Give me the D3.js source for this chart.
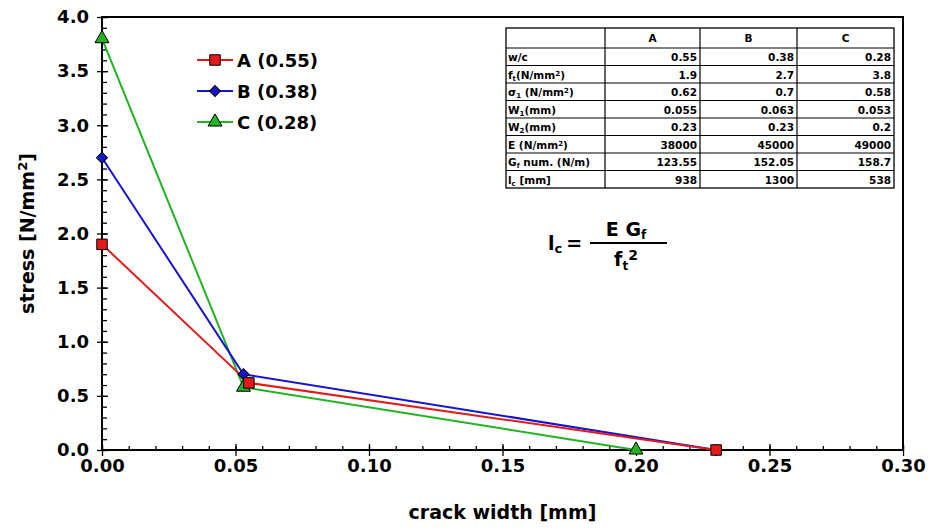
<!DOCTYPE html>
<html lang="en">
  <head>
    <meta charset="UTF-8" />
    <title>Stress vs crack width</title>
    <script src="https://d3js.org/d3.v7.min.js"></script>
    <style>
      body { margin: 0; background: #fff; }
      text { font-family: 'DejaVu Sans', sans-serif; font-weight: bold; fill: #000; }
    </style>
  </head>
  <body>
    <div id="chart"></div>
    <script>
      // softening curves
      const seriesNames = ['A (0.55)', 'B (0.38)', 'C (0.28)'];
      const seriesColors = ['#e31a1a', '#1414d2', '#22b322'];
      const seriesSymbols = ['square', 'diamond', 'triangle'];
      const crackA = [0, 0.055, 0.23];
      const stressA = [1.9, 0.62, 0];
      const crackB = [0, 0.053, 0.23];
      const stressB = [2.7, 0.7, 0];
      const crackC = [0, 0.053, 0.2];
      const stressC = [3.8, 0.58, 0];

      const xTicks = [0, 0.05, 0.1, 0.15, 0.2, 0.25, 0.3];
      const yTicks = [0, 0.5, 1, 1.5, 2, 2.5, 3, 3.5, 4];

      // parameter table
      const tableHeader = ['', 'A', 'B', 'C'];
      const rowLabels = [
        ['w/c'],
        ['f', 't', '(N/mm', '2', ')'],
        ['σ', '1', ' (N/mm', '2', ')'],
        ['W', '1', '(mm)'],
        ['W', '2', '(mm)'],
        ['E (N/mm', '2', ')'],
        ['G', 'f', ' num. (N/m)'],
        ['l', 'c', '  [mm]'],
      ];
      const colA = ['0.55', '1.9', '0.62', '0.055', '0.23', '38000', '123.55', '938'];
      const colB = ['0.38', '2.7', '0.7', '0.063', '0.23', '45000', '152.05', '1300'];
      const colC = ['0.28', '3.8', '0.58', '0.053', '0.2', '49000', '158.7', '538'];

      const width = 930;
      const height = 531;
      const margin = { top: 17, right: 27, bottom: 81, left: 102 };

      const svg = d3
        .select('#chart')
        .append('svg')
        .attr('width', width)
        .attr('height', height);

      const x = d3
        .scaleLinear()
        .domain([0, 0.3])
        .range([margin.left, width - margin.right]);
      const y = d3
        .scaleLinear()
        .domain([0, 4])
        .range([height - margin.bottom, margin.top]);

      const minorX = d3.range(0, 31).map((i) => i / 100);
      const minorY = d3.range(0, 41).map((i) => i / 10);

      // minor ticks (inside)
      svg
        .append('g')
        .attr('transform', `translate(0,${y(0)})`)
        .call(d3.axisBottom(x).tickValues(minorX).tickSize(-4).tickFormat(''))
        .call((g) => g.select('.domain').remove());
      svg
        .append('g')
        .attr('transform', `translate(${x(0)},0)`)
        .call(d3.axisLeft(y).tickValues(minorY).tickSize(-5).tickFormat(''))
        .call((g) => g.select('.domain').remove());

      // major ticks inside part
      svg
        .append('g')
        .attr('transform', `translate(0,${y(0)})`)
        .call(d3.axisBottom(x).tickValues(xTicks).tickSize(-6).tickFormat(''))
        .call((g) => g.select('.domain').remove());
      svg
        .append('g')
        .attr('transform', `translate(${x(0)},0)`)
        .call(d3.axisLeft(y).tickValues(yTicks).tickSize(-6).tickFormat(''))
        .call((g) => g.select('.domain').remove());

      // major ticks outside with labels
      const xAxis = svg
        .append('g')
        .attr('transform', `translate(0,${y(0)})`)
        .call(
          d3
            .axisBottom(x)
            .tickValues(xTicks)
            .tickSize(6)
            .tickPadding(3)
            .tickFormat(d3.format('.2f'))
        );
      const yAxis = svg
        .append('g')
        .attr('transform', `translate(${x(0)},0)`)
        .call(
          d3
            .axisLeft(y)
            .tickValues(yTicks)
            .tickSize(5)
            .tickPadding(8)
            .tickFormat(d3.format('.1f'))
        );
      [xAxis, yAxis].forEach((g) => {
        g.select('.domain').remove();
        g.selectAll('text').style('font-size', '18px').style('font-family', "'DejaVu Sans', sans-serif");
      });
      svg.selectAll('.tick line').attr('stroke', '#000').attr('stroke-width', 1.3);

      // frame
      svg
        .append('rect')
        .attr('x', x(0))
        .attr('y', y(4))
        .attr('width', x(0.3) - x(0))
        .attr('height', y(0) - y(4))
        .attr('fill', 'none')
        .attr('stroke', '#000')
        .attr('stroke-width', 2);

      // axis titles
      svg
        .append('text')
        .attr('x', (x(0) + x(0.3)) / 2)
        .attr('y', 519)
        .attr('text-anchor', 'middle')
        .style('font-size', '19px')
        .text('crack width [mm]');

      const yTitle = svg
        .append('text')
        .attr('transform', `translate(34,${(y(0) + y(4)) / 2}) rotate(-90)`)
        .attr('text-anchor', 'middle')
        .style('font-size', '19px');
      yTitle.append('tspan').text('stress  [N/mm');
      yTitle.append('tspan').attr('dy', -7).style('font-size', '13px').text('2');
      yTitle.append('tspan').attr('dy', 7).text(']');

      // series
      const series = [
        { xs: crackA, ys: stressA },
        { xs: crackB, ys: stressB },
        { xs: crackC, ys: stressC },
      ].map((s, i) => ({
        name: seriesNames[i],
        color: seriesColors[i],
        symbol: seriesSymbols[i],
        points: s.xs.map((v, j) => [v, s.ys[j]]),
      }));

      // diamond is drawn as a square turned 45 degrees
      const symbolTypes = {
        square: d3.symbolSquare,
        diamond: d3.symbolSquare,
        triangle: d3.symbolTriangle,
      };
      const symbolSizes = { square: 110, diamond: 60, triangle: 85 };
      const symbolRotate = { square: 0, diamond: 45, triangle: 0 };

      const line = d3
        .line()
        .x((d) => x(d[0]))
        .y((d) => y(d[1]));

      // A ends up on top, as in the original
      const drawOrder = series.slice().reverse();
      drawOrder.forEach((s) => {
        svg
          .append('path')
          .datum(s.points)
          .attr('d', line)
          .attr('fill', 'none')
          .attr('stroke', s.color)
          .attr('stroke-width', 2);
      });
      drawOrder.forEach((s) => {
        svg
          .append('g')
          .selectAll('path')
          .data(s.points)
          .enter()
          .append('path')
          .attr('transform', (d) => `translate(${x(d[0])},${y(d[1])}) rotate(${symbolRotate[s.symbol]})`)
          .attr('d', d3.symbol().type(symbolTypes[s.symbol]).size(symbolSizes[s.symbol]))
          .attr('fill', s.color)
          .attr('stroke', '#000')
          .attr('stroke-width', 1);
      });

      // legend
      const legend = svg.append('g').attr('transform', 'translate(197,60)');
      series.forEach((s, i) => {
        const row = legend.append('g').attr('transform', `translate(0,${i * 31})`);
        row
          .append('line')
          .attr('x1', 0)
          .attr('x2', 36)
          .attr('stroke', s.color)
          .attr('stroke-width', 2);
        row
          .append('path')
          .attr('transform', `translate(18,0) rotate(${symbolRotate[s.symbol]})`)
          .attr('d', d3.symbol().type(symbolTypes[s.symbol]).size(symbolSizes[s.symbol]))
          .attr('fill', s.color)
          .attr('stroke', '#000');
        row
          .append('text')
          .attr('x', 40)
          .attr('y', 6.5)
          .style('font-size', '18px')
          .text(s.name);
      });

      // table
      const colX = [506, 605, 700, 797, 894];
      const headerTop = 28;
      const headerH = 20;
      const rowH = 17.5;
      const tableBottom = headerTop + headerH + rowH * rowLabels.length;
      const table = svg.append('g');

      table
        .append('rect')
        .attr('x', colX[0])
        .attr('y', headerTop)
        .attr('width', colX[4] - colX[0])
        .attr('height', tableBottom - headerTop)
        .attr('fill', '#fff')
        .attr('stroke', '#000')
        .attr('stroke-width', 1.3);
      colX.slice(1, 4).forEach((cx) => {
        table
          .append('line')
          .attr('x1', cx)
          .attr('x2', cx)
          .attr('y1', headerTop)
          .attr('y2', tableBottom)
          .attr('stroke', '#000')
          .attr('stroke-width', 1.2);
      });
      d3.range(rowLabels.length).forEach((i) => {
        const ly = headerTop + headerH + i * rowH;
        table
          .append('line')
          .attr('x1', colX[0])
          .attr('x2', colX[4])
          .attr('y1', ly)
          .attr('y2', ly)
          .attr('stroke', '#000')
          .attr('stroke-width', 1.2);
      });

      tableHeader.forEach((h, j) => {
        if (!h) return;
        table
          .append('text')
          .attr('x', (colX[j] + colX[j + 1]) / 2)
          .attr('y', headerTop + 14)
          .attr('text-anchor', 'middle')
          .style('font-size', '10.5px')
          .text(h);
      });

      rowLabels.forEach((parts, i) => {
        const base = headerTop + headerH + i * rowH + 13;
        const t = table
          .append('text')
          .attr('x', colX[0] + 2)
          .attr('y', base)
          .style('font-size', '10.5px');
        // parts alternate normal / sub-or-superscript
        parts.forEach((p, k) => {
          const ts = t.append('tspan').text(p);
          if (k % 2 === 1) {
            const isSup = p === '2' && parts[k - 1].includes('mm');
            ts.attr('baseline-shift', isSup ? '45%' : '-30%').style('font-size', '7px');
          }
        });
        [colA, colB, colC].forEach((col, j) => {
          table
            .append('text')
            .attr('x', colX[j + 2] - 3)
            .attr('y', base)
            .attr('text-anchor', 'end')
            .style('font-size', '10.5px')
            .text(col[i]);
        });
      });

      // formula l_c = E G_f / f_t^2
      const f = svg.append('g');
      const lhs = f.append('text').attr('x', 548).attr('y', 250).style('font-size', '19px');
      lhs.append('tspan').text('l');
      lhs.append('tspan').attr('dy', 3).style('font-size', '13px').text('c');
      lhs.append('tspan').attr('dy', -3).attr('dx', 4).text('=');
      f.append('line')
        .attr('x1', 590)
        .attr('x2', 667)
        .attr('y1', 243)
        .attr('y2', 243)
        .attr('stroke', '#000')
        .attr('stroke-width', 2);
      const num = f.append('text').attr('x', 626).attr('y', 236).attr('text-anchor', 'middle').style('font-size', '19px');
      num.append('tspan').text('E G');
      num.append('tspan').attr('dy', 3).style('font-size', '12px').text('f');
      const den = f.append('text').attr('x', 626).attr('y', 266).attr('text-anchor', 'middle').style('font-size', '19px');
      den.append('tspan').text('f');
      den.append('tspan').attr('dy', 4).style('font-size', '12px').text('t');
      den.append('tspan').attr('dy', -10).style('font-size', '14px').text('2');
    </script>
  </body>
</html>
